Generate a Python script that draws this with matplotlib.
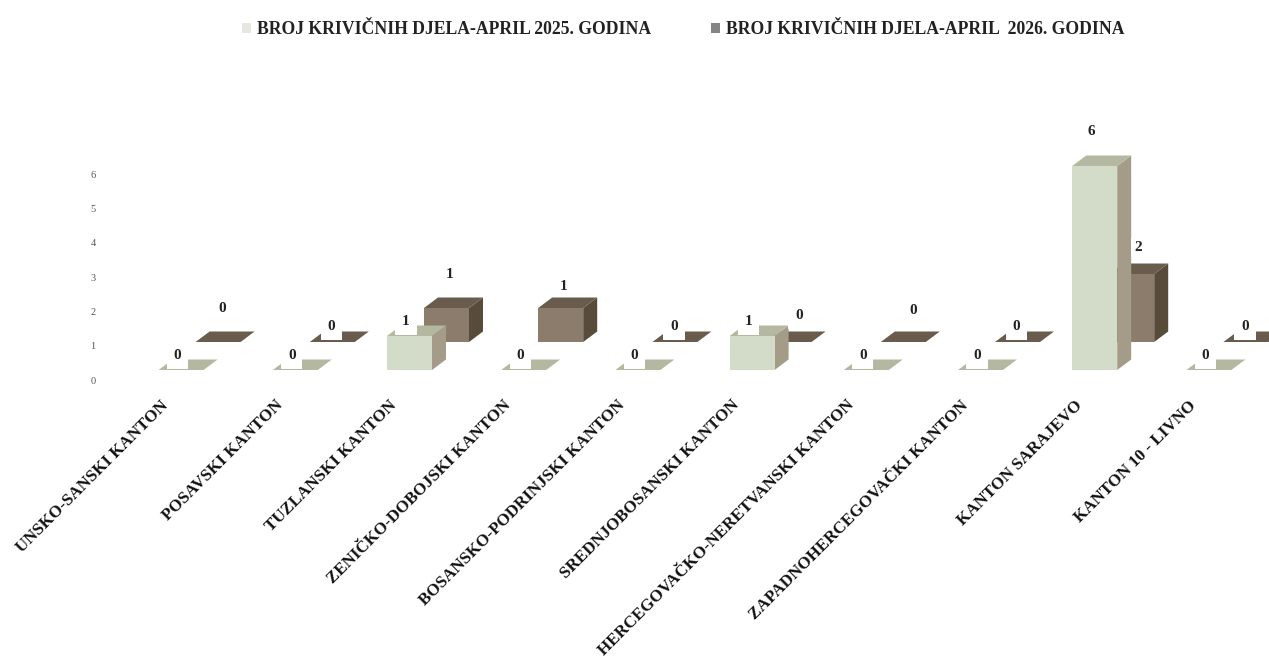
import matplotlib
matplotlib.use("Agg")
import matplotlib.pyplot as plt
from matplotlib.patches import Patch, Polygon

plt.rcParams['font.family'] = ['Liberation Serif', 'DejaVu Serif']

# Data
kantoni = ["UNSKO-SANSKI KANTON", "POSAVSKI KANTON", "TUZLANSKI KANTON",
           "ZENIČKO-DOBOJSKI KANTON", "BOSANSKO-PODRINJSKI KANTON",
           "SREDNJOBOSANSKI KANTON", "HERCEGOVAČKO-NERETVANSKI KANTON",
           "ZAPADNOHERCEGOVAČKI KANTON", "KANTON SARAJEVO", "KANTON 10 - LIVNO"]
djela_2025 = [0, 0, 1, 0, 0, 1, 0, 0, 6, 0]
djela_2026 = [0, 0, 1, 1, 0, 0, 0, 0, 2, 0]
y_ticks = [0, 1, 2, 3, 4, 5, 6]
naziv_2025 = "BROJ KRIVIČNIH DJELA-APRIL 2025. GODINA"
naziv_2026 = "BROJ KRIVIČNIH DJELA-APRIL  2026. GODINA"

# Layout in pixels of the 1269x659 picture
W, H = 1269, 659
PX_X = 114.2    # one category
PX_Y = 34.0     # one crime
X0 = 181.1      # centre of the first front bar
Y0 = 370.0      # zero line of the front bars

fig = plt.figure(figsize=(W / 100, H / 100), dpi=100)
ax = fig.add_axes([0, 0, 1, 1])
ax.set_xlim(-X0 / PX_X, (W - X0) / PX_X)
ax.set_ylim(-(H - Y0) / PX_Y, Y0 / PX_Y)
ax.axis("off")

# bar shape in data units
bar_w = 45 / PX_X
depth_x = 14 / PX_X
depth_y = 10.5 / PX_Y
back_x = 37 / PX_X
back_y = 28 / PX_Y

light = ("#d2dcc8", "#b4b8a0", "#a49c88")
dark = ("#8b7c6c", "#6a5c4c", "#594b3a")


def bar3d(x, base, v, cols, z):
    l, r = x - bar_w / 2, x + bar_w / 2
    t = base + v
    front = [(l, base), (r, base), (r, t), (l, t)]
    top = [(l, t), (r, t), (r + depth_x, t + depth_y), (l + depth_x, t + depth_y)]
    side = [(r, base), (r + depth_x, base + depth_y), (r + depth_x, t + depth_y), (r, t)]
    for pts, c in zip((side, front, top), (cols[2], cols[0], cols[1])):
        ax.add_patch(Polygon(pts, closed=True, fc=c, ec="none", zorder=z))


for i in range(len(kantoni)):
    bar3d(i + back_x, back_y, djela_2026[i], dark, 2)
    bar3d(i, 0, djela_2025[i], light, 3)

# value labels have white boxes, they bite into the flat bars like in the original
lift_2025 = [6, 6, 6, 6, 6, 6, 6, 6, 26, 6]
lift_2026 = [25, 7, 25, 13, 7, 18, 23, 7, 18, 7]
shift_2026 = [4, -1, 3, 3, -1, 10, 10, -1, 6, -1]
for i in range(len(kantoni)):
    v = djela_2025[i]
    ax.annotate(str(v), (i, v + depth_y), xytext=(-3.5 * 0.72, lift_2025[i] * 0.72 - 6),
                textcoords="offset points", ha="center", va="bottom",
                fontsize=11, fontweight="bold", color="#222222",
                bbox=dict(fc="white", ec="none", pad=5), zorder=5)
    v = djela_2026[i]
    pad = 5 if v == 0 else 2
    ax.annotate(str(v), (i + back_x, v + back_y + depth_y),
                xytext=(shift_2026[i] * 0.72, lift_2026[i] * 0.72 - 6),
                textcoords="offset points", ha="center", va="bottom",
                fontsize=11, fontweight="bold", color="#222222",
                bbox=dict(fc="white", ec="none", pad=pad), zorder=5)

# y axis numbers sit a bit lower than the bar floor
for t in y_ticks:
    ax.annotate(str(t), (-X0 / PX_X, t * 34.3 / PX_Y), xytext=(93 * 0.72, -11 * 0.72),
                textcoords="offset points", ha="center", va="center",
                fontsize=7.5, color="#555555")

# category labels
for i, name in enumerate(kantoni):
    ax.annotate(name, (i, 0), xytext=(-15 * 0.72, -33 * 0.72), textcoords="offset points",
                rotation=45, rotation_mode="anchor", ha="right", va="center",
                fontsize=12.15, fontweight="bold", color="#111111", annotation_clip=False)

handles = [Patch(fc="#e4e8e0", ec="none"), Patch(fc="#858585", ec="none")]
leg = ax.legend(handles, [naziv_2025, naziv_2026], ncols=2, frameon=False,
                loc="center left", bbox_to_anchor=(242 / W, 1 - 30 / H),
                borderaxespad=0, borderpad=0, handlelength=0.5, handleheight=0.5,
                handletextpad=0.35, columnspacing=3.4,
                prop=dict(size=12.7, weight="bold"))
for txt in leg.get_texts():
    txt.set_color("#222222")

fig.savefig("out.png", dpi=100)
